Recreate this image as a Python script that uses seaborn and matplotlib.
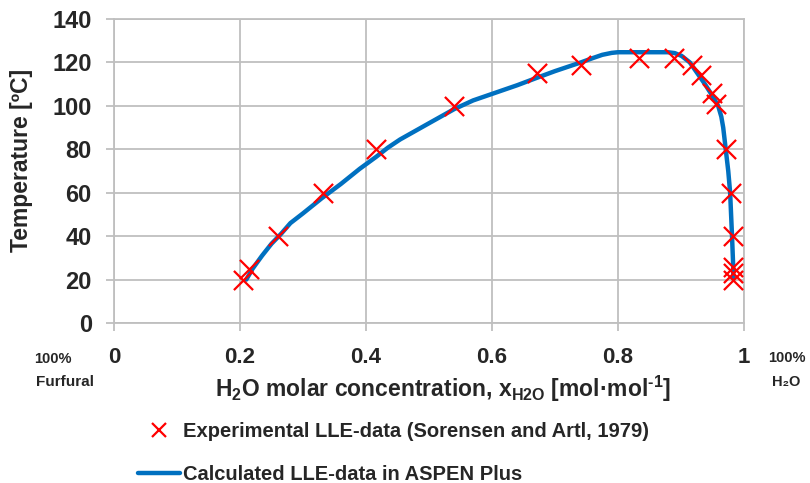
import matplotlib
matplotlib.use("Agg")
import matplotlib.pyplot as plt
import seaborn as sns
import pandas as pd
from matplotlib.lines import Line2D

# Experimental LLE data (Sorensen and Artl, 1979)
x_exp = [0.205, 0.215, 0.261, 0.332, 0.416, 0.540, 0.672, 0.741, 0.833, 0.889,
         0.918, 0.932, 0.949, 0.956, 0.971, 0.979, 0.982, 0.983, 0.983, 0.983]
t_exp = [20, 25, 40, 60, 80, 100, 115, 119, 122, 122,
         119, 114, 106, 101, 80, 60, 40, 26, 23, 20]

# Calculated LLE curve (ASPEN Plus)
x_calc = [0.210, 0.220, 0.235, 0.250, 0.265, 0.280, 0.300, 0.330, 0.360, 0.390,
          0.416, 0.435, 0.454, 0.500, 0.540, 0.570, 0.600, 0.640, 0.672, 0.700,
          0.741, 0.760, 0.775, 0.790, 0.800, 0.830, 0.879, 0.890, 0.901, 0.914,
          0.926, 0.938, 0.949, 0.955, 0.959, 0.964, 0.967, 0.971, 0.975, 0.978,
          0.981, 0.983, 0.983]
t_calc = [20, 25, 31, 36.5, 41, 46, 50.5, 57.5, 64, 71,
          76.5, 80.8, 84.5, 92, 98.5, 102.5, 105.5, 109.5, 113, 116,
          120, 122, 123.5, 124.4, 124.7, 124.7, 124.7, 124.3, 123, 120,
          115, 110, 105, 102, 100, 95, 90, 80, 70, 60,
          40, 25, 21]

x_ticks = [0, 0.2, 0.4, 0.6, 0.8, 1]
x_tick_labels = ["0", "0.2", "0.4", "0.6", "0.8", "1"]
y_ticks = [0, 20, 40, 60, 80, 100, 120, 140]

label_exp = "Experimental LLE-data (Sorensen and Artl, 1979)"
label_calc = "Calculated LLE-data in ASPEN Plus"

sns.set_style("whitegrid")
plt.rcParams["font.family"] = ["Liberation Sans", "DejaVu Sans"]
plt.rcParams["mathtext.fontset"] = "custom"
plt.rcParams["mathtext.rm"] = "Liberation Sans:bold"
plt.rcParams["mathtext.it"] = "Liberation Sans:bold"
plt.rcParams["mathtext.bf"] = "Liberation Sans:bold"
plt.rcParams["mathtext.default"] = "rm"

grid_c = "#BFBFBF"
line_c = "#0070C0"

fig = plt.figure(figsize=(8.10, 4.83), dpi=100)
ax = fig.add_axes([114 / 810, 1 - 323 / 483, 630 / 810, 304 / 483])

calc = pd.DataFrame({"x": x_calc, "T": t_calc})
exp = pd.DataFrame({"x": x_exp, "T": t_exp})

sns.lineplot(data=calc, x="x", y="T", sort=False, estimator=None,
             color=line_c, linewidth=3.2, ax=ax, zorder=3)
sns.scatterplot(data=exp, x="x", y="T", marker="x", color="#FF0000",
                s=190, linewidth=1.6, ax=ax, zorder=4)
for ln in ax.get_lines():
    ln.set_solid_joinstyle("round")

ax.set_xlim(0, 1)
ax.set_ylim(0, 140)
ax.set_xticks(x_ticks)
ax.set_xticklabels(x_tick_labels)
ax.set_yticks(y_ticks)

ax.grid(True, color=grid_c, linewidth=1.3)
for sp in ax.spines.values():
    sp.set_color(grid_c)
    sp.set_linewidth(1.3)

ax.tick_params(axis="x", which="major", direction="out", length=6, width=1.3,
               color=grid_c, pad=11, labelsize=16)
ax.tick_params(axis="y", which="major", direction="out", length=6, width=1.3,
               color=grid_c, pad=10, labelsize=17)
ax.tick_params(bottom=True, left=True)
for lab in ax.get_xticklabels() + ax.get_yticklabels():
    lab.set_fontweight("bold")

ax.set_xlabel("")
ax.set_ylabel("Temperature [ºC]", fontsize=16.5, fontweight="bold")
ax.yaxis.set_label_coords((33 - 114) / 630, (323 - 160) / 304)

fig.text(443 / 810, 1 - 389 / 483,
         r"H$_2$O molar concentration, x$_{\mathrm{H2O}}$ [mol·mol$^{\text{-1}}$]",
         ha="center", va="center", fontsize=16.5, fontweight="bold")

# Composition endpoints
fig.text(53 / 810, 1 - 359 / 483, "100%", ha="center", va="center",
         fontsize=10.5, fontweight="bold")
fig.text(65 / 810, 1 - 382 / 483, "Furfural", ha="center", va="center",
         fontsize=11, fontweight="bold")
fig.text(787 / 810, 1 - 358 / 483, "100%", ha="center", va="center",
         fontsize=10.5, fontweight="bold")
fig.text(786 / 810, 1 - 382 / 483, "H₂O", ha="center", va="center",
         fontsize=10.5, fontweight="bold")

handles = [
    Line2D([], [], linestyle="none", marker="x", color="#FF0000",
           markersize=10, markeredgewidth=1.6),
    Line2D([], [], color=line_c, linewidth=3.2),
]
leg = fig.legend(handles, [label_exp, label_calc], loc="upper left",
                 bbox_to_anchor=(138 / 810, 1 - 422 / 483), frameon=False,
                 prop={"weight": "bold", "size": 14.5}, handlelength=2.1,
                 handletextpad=0.15, labelspacing=1.2, borderpad=0,
                 borderaxespad=0)

fig.savefig("out.png", dpi=100)
